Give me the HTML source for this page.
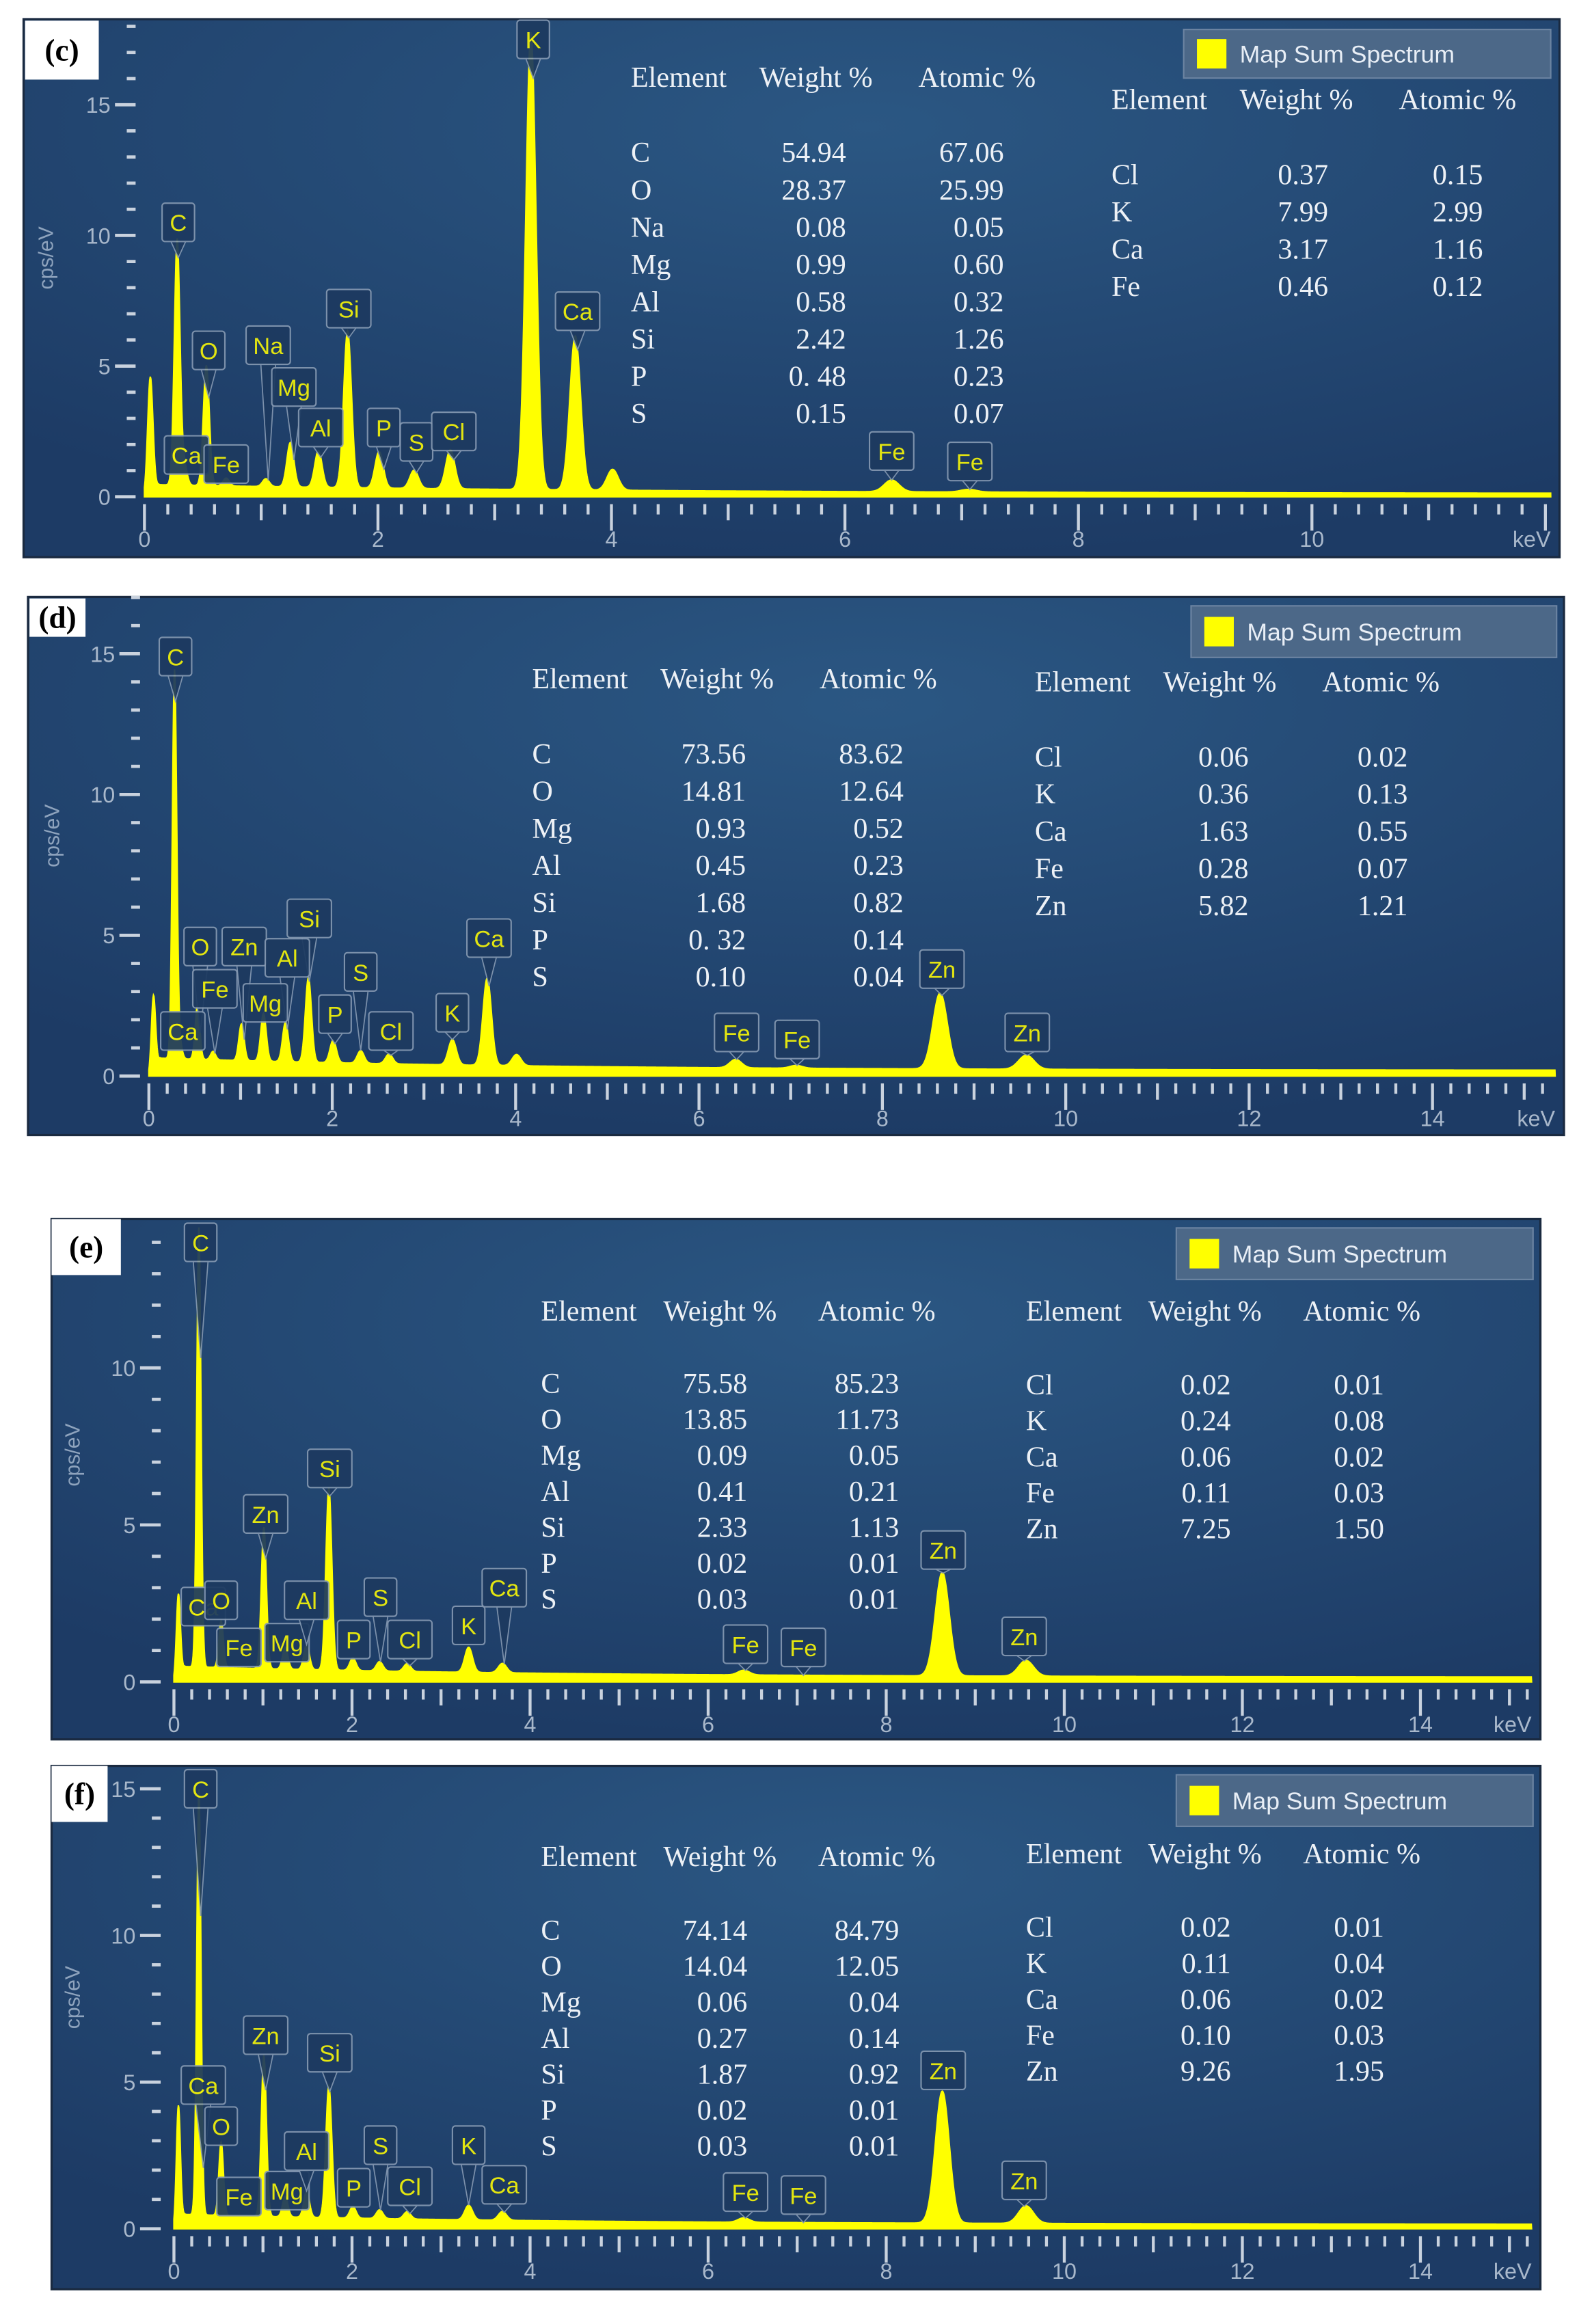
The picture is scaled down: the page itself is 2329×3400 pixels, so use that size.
<!DOCTYPE html>
<html><head><meta charset="utf-8">
<style>
html,body{margin:0;padding:0;background:#fff;}
svg{display:block;}
</style></head>
<body>
<svg id="fig" xmlns="http://www.w3.org/2000/svg" width="2329" height="3400" viewBox="0 0 1080 1576.6" preserveAspectRatio="none">
<defs>
<radialGradient id="bgGrad" cx="0.55" cy="0.2" r="0.8">
<stop offset="0" stop-color="#2b5783"/>
<stop offset="1" stop-color="#1d3b65"/>
</radialGradient>
</defs>
</svg>
<script>
// ---------- data (c) ----------
const cPeakE = [0.05,0.28,0.34,0.53,0.70,1.04,1.25,1.49,1.74,2.01,2.31,2.62,3.31,3.69,4.01,6.40,7.06];
const cPeakH = [4.4,9.4,0.8,4.6,0.3,0.3,1.7,1.4,6.0,1.4,0.7,1.5,17.5,5.9,0.8,0.45,0.1];
const cBg = [0.35,0.12];
const cTagNames = ["C","O","Na","Mg","Al","Si","P","S","Cl","K","Ca","Ca","Fe","Fe","Fe"];
const cTagE = [0.29,0.55,1.06,1.28,1.51,1.75,2.05,2.33,2.65,3.33,3.71,0.36,0.70,6.40,7.07];
const cTagY = [10.5,5.6,5.8,4.2,2.65,7.2,2.65,2.1,2.5,17.5,7.1,1.6,1.25,1.75,1.35];
const cT1El = ["C","O","Na","Mg","Al","Si","P","S"];
const cT1W = ["54.94","28.37","0.08","0.99","0.58","2.42","0. 48","0.15"];
const cT1A = ["67.06","25.99","0.05","0.60","0.32","1.26","0.23","0.07"];
const cT2El = ["Cl","K","Ca","Fe"];
const cT2W = ["0.37","7.99","3.17","0.46"];
const cT2A = ["0.15","2.99","1.16","0.12"];
const cXTicks = [0,2,4,6,8,10];
const cYTicks = [0,5,10,15];
// ---------- data (d) ----------
const dPeakE = [0.05,0.28,0.34,0.53,0.70,1.01,1.25,1.49,1.74,2.01,2.31,2.62,3.31,3.69,4.01,6.40,7.06,8.63,9.57];
const dPeakH = [2.6,13.8,0.5,1.9,0.3,1.3,1.7,1.4,3.0,0.8,0.45,0.35,0.9,3.1,0.4,0.3,0.1,2.7,0.5];
const dBg = [0.45,0.2];
const dTagNames = ["C","O","Zn","Fe","Si","Al","Mg","S","P","Cl","K","Ca","Ca","Fe","Fe","Zn","Zn"];
const dTagE = [0.29,0.56,1.04,0.72,1.75,1.51,1.27,2.31,2.03,2.64,3.31,3.71,0.37,6.41,7.07,8.65,9.58];
const dTagY = [14.9,4.6,4.6,3.1,5.6,4.2,2.6,3.7,2.2,1.6,2.25,4.9,1.6,1.55,1.3,3.8,1.55];
const dT1El = ["C","O","Mg","Al","Si","P","S"];
const dT1W = ["73.56","14.81","0.93","0.45","1.68","0. 32","0.10"];
const dT1A = ["83.62","12.64","0.52","0.23","0.82","0.14","0.04"];
const dT2El = ["Cl","K","Ca","Fe","Zn"];
const dT2W = ["0.06","0.36","1.63","0.28","5.82"];
const dT2A = ["0.02","0.13","0.55","0.07","1.21"];
const dXTicks = [0,2,4,6,8,10,12,14];
const dYTicks = [0,5,10,15];
// ---------- data (e) ----------
const ePeakE = [0.05,0.28,0.53,1.01,1.25,1.49,1.74,2.01,2.31,2.62,3.31,3.69,6.40,8.63,9.57];
const ePeakH = [2.6,14.0,1.5,4.5,0.7,0.8,5.8,0.4,0.3,0.25,0.8,0.3,0.15,3.3,0.5];
const eBg = [0.35,0.15];
const eTagNames = ["C","Zn","Si","Ca","O","Fe","Mg","Al","P","S","Cl","K","Ca","Fe","Fe","Zn","Zn"];
const eTagE = [0.30,1.03,1.75,0.33,0.53,0.73,1.27,1.49,2.02,2.32,2.65,3.31,3.71,6.42,7.07,8.64,9.55];
const eTagY = [14.0,5.35,6.8,2.4,2.6,1.1,1.25,2.6,1.35,2.7,1.35,1.8,3.0,1.2,1.1,4.2,1.45];
const eT1El = ["C","O","Mg","Al","Si","P","S"];
const eT1W = ["75.58","13.85","0.09","0.41","2.33","0.02","0.03"];
const eT1A = ["85.23","11.73","0.05","0.21","1.13","0.01","0.01"];
const eT2El = ["Cl","K","Ca","Fe","Zn"];
const eT2W = ["0.02","0.24","0.06","0.11","7.25"];
const eT2A = ["0.01","0.08","0.02","0.03","1.50"];
const eXTicks = [0,2,4,6,8,10,12,14];
const eYTicks = [0,5,10];
// ---------- data (f) ----------
const fPeakE = [0.05,0.28,0.53,1.01,1.25,1.49,1.74,2.01,2.31,2.62,3.31,3.69,6.40,8.63,9.57];
const fPeakH = [4.0,14.5,2.5,5.5,0.7,0.9,4.5,0.4,0.3,0.25,0.5,0.3,0.15,4.5,0.6];
const fBg = [0.35,0.15];
const fTagNames = ["C","Zn","Si","Ca","O","Fe","Mg","Al","P","S","Cl","K","Ca","Fe","Fe","Zn","Zn"];
const fTagE = [0.30,1.03,1.75,0.33,0.53,0.73,1.27,1.49,2.02,2.32,2.65,3.31,3.71,6.42,7.07,8.64,9.55];
const fTagY = [15.0,6.6,6.0,4.9,3.5,1.1,1.3,2.65,1.4,2.85,1.45,2.85,1.5,1.25,1.15,5.4,1.65];
const fT1El = ["C","O","Mg","Al","Si","P","S"];
const fT1W = ["74.14","14.04","0.06","0.27","1.87","0.02","0.03"];
const fT1A = ["84.79","12.05","0.04","0.14","0.92","0.01","0.01"];
const fT2El = ["Cl","K","Ca","Fe","Zn"];
const fT2W = ["0.02","0.11","0.06","0.10","9.26"];
const fT2A = ["0.01","0.04","0.02","0.03","1.95"];
const fXTicks = [0,2,4,6,8,10,12,14];
const fYTicks = [0,5,10,15];

const NS = "http://www.w3.org/2000/svg";
const svg = document.getElementById('fig');
function mk(tag, attrs, parent, text){
  const e = document.createElementNS(NS, tag);
  for (const k in attrs) e.setAttribute(k, attrs[k]);
  if (text !== undefined) e.textContent = text;
  (parent||svg).appendChild(e);
  return e;
}

function panel(cfg){
  const g = mk('g', {});
  
  
  const fr = mk('rect', {x:cfg.box[0], y:cfg.box[1], width:cfg.box[2]-cfg.box[0], height:cfg.box[3]-cfg.box[1], fill:'url(#bgGrad)', stroke:'#1a2a40', 'stroke-width':1.5}, g);
  
  
  const xS = E => cfg.x0 + E * cfg.kx;
  const yS = v => cfg.y0 - v * cfg.ky;
  const cid = 'clip' + cfg.id;
  const cp = mk('clipPath', {id:cid}, g);
  mk('rect', {x:cfg.box[0], y:cfg.box[1], width:cfg.box[2]-cfg.box[0], height:cfg.box[3]-cfg.box[1]}, cp);
  const ymax = (cfg.y0 - cfg.box[1]) / cfg.ky;
  for (let v = 0; v <= ymax; v++) {
    const major = cfg.yTicks.includes(v);
    const t = mk('line', {x1: major ? cfg.yAxX - 14 : cfg.yAxX - 6, x2: cfg.yAxX, y1: yS(v), y2: yS(v), stroke:'#c9d2de', 'stroke-width': 2.2}, g);
    
    
  }
  cfg.yTicks.forEach(v => {
    const t = mk('text', {x: cfg.yAxX - 17, y: yS(v) + 5.5, 'text-anchor':'end', 'font-family':'Liberation Sans, sans-serif', 'font-size':15, fill:'#a9b8cb'}, g, String(v));
    
    
  });
  const yt = mk('text', {x: 0, y: 0, transform:'translate(' + cfg.yLab[0] + ',' + cfg.yLab[1] + ') rotate(-90)', 'text-anchor':'middle', 'font-family':'Liberation Sans, sans-serif', 'font-size':14, fill:'#8ea3bd'}, g, 'cps/eV');
  
  
  const xmax = (cfg.box[2] - 6 - cfg.x0) / cfg.kx;
  for (let i = 0; i * 0.2 <= xmax + 1e-6; i++) {
    const E = i * 0.2;
    const major = i % 10 === 0, mid = i % 5 === 0;
    const len = major ? 18 : (mid ? 11 : 7);
    const t = mk('line', {x1: xS(E), x2: xS(E), y1: cfg.y0 + 5, y2: cfg.y0 + 5 + len, stroke:'#c9d2de', 'stroke-width': 2}, g);
    
    
  }
  cfg.xTicks.forEach(v => {
    const t = mk('text', {x: xS(v), y: cfg.y0 + 34, 'text-anchor':'middle', 'font-family':'Liberation Sans, sans-serif', 'font-size':15, fill:'#a9b8cb'}, g, String(v));
    
    
  });
  const kv = mk('text', {x: cfg.box[2] - 6, y: cfg.y0 + 34, 'text-anchor':'end', 'font-family':'Liberation Sans, sans-serif', 'font-size':15, fill:'#a9b8cb'}, g, 'keV');
  
  
  const f = E => {
    let v = (cfg.bg[0] * Math.exp(-E / 4) + cfg.bg[1]) * Math.min(1, E / 0.12);
    for (let i = 0; i < cfg.pE.length; i++) {
      const s = 0.022 + 0.0065 * cfg.pE[i];
      v += cfg.pH[i] * Math.exp(-Math.pow(E - cfg.pE[i], 2) / (2 * s * s));
    }
    return v;
  };
  let d = 'M' + xS(0) + ',' + cfg.y0;
  for (let E = 0; E <= xmax; E += 0.005) d += 'L' + xS(E).toFixed(2) + ',' + yS(f(E)).toFixed(2);
  d += 'L' + xS(xmax) + ',' + cfg.y0 + 'Z';
  const sp = mk('path', {d: d, fill:'#ffff00', stroke:'#ffff00', 'stroke-width':1, 'clip-path':'url(#' + cid + ')'}, g);
  
  
  cfg.tN.forEach((n, i) => {
    const cx = xS(cfg.tE[i]), cy = yS(cfg.tY[i]);
    const w = n.length > 1 ? 30 : 22, h = 26;
    const peakY = Math.min(cfg.y0 - 2, yS(f(cfg.tE[i])));
    const tg = mk('g', {opacity:0.93}, g);
    
    
    if (peakY > cy + h / 2 + 2) {
      mk('path', {d:'M' + (cx - 5) + ',' + (cy + h / 2) + 'L' + cx + ',' + peakY + 'L' + (cx + 5) + ',' + (cy + h / 2) + 'Z', fill:'#1d3a60', stroke:'#8397b0', 'stroke-width':0.8}, tg);
    }
    mk('rect', {x: cx - w / 2, y: cy - h / 2, width: w, height: h, rx: 2, fill:'#1d3a60', stroke:'#8397b0', 'stroke-width':1}, tg);
    mk('text', {x: cx, y: cy + 6, 'text-anchor':'middle', 'font-family':'Liberation Sans, sans-serif', 'font-size':16, fill:'#f2f20a'}, tg, n);
  });
  const L = cfg.legend;
  const lg = mk('g', {}, g);
  
  
  mk('rect', {x: L[0], y: L[1], width: L[2] - L[0], height: L[3] - L[1], fill:'#4c6888', stroke:'#6c84a2', 'stroke-width':1}, lg);
  mk('rect', {x: L[0] + 9, y: (L[1] + L[3]) / 2 - 10, width: 20, height: 20, fill:'#ffff00'}, lg);
  mk('text', {x: L[0] + 38, y: (L[1] + L[3]) / 2 + 6, 'font-family':'Liberation Sans, sans-serif', 'font-size':16.5, fill:'#e8eef6'}, lg, 'Map Sum Spectrum');
  const tbl = (name, cols, hy, rows0, dy, el, w, a) => {
    const tg = mk('g', {'font-family':'Liberation Serif, serif', 'font-size':19.5, fill:'#edf1f6'}, g);
    
    
    mk('text', {x: cols[0], y: hy}, tg, 'Element');
    mk('text', {x: cols[1], y: hy}, tg, 'Weight %');
    mk('text', {x: cols[2], y: hy}, tg, 'Atomic %');
    el.forEach((e, i) => {
      const y = rows0 + i * dy;
      mk('text', {x: cols[0], y: y}, tg, e);
      mk('text', {x: cols[3], y: y, 'text-anchor':'end'}, tg, w[i]);
      mk('text', {x: cols[4], y: y, 'text-anchor':'end'}, tg, a[i]);
    });
  };
  tbl('composition-table-1', cfg.t1c, cfg.t1h, cfg.t1r, cfg.t1d, cfg.t1[0], cfg.t1[1], cfg.t1[2]);
  tbl('composition-table-2', cfg.t2c, cfg.t2h, cfg.t2r, cfg.t2d, cfg.t2[0], cfg.t2[1], cfg.t2[2]);
  const pl = mk('g', {}, g);
  
  
  mk('rect', {x: cfg.lab[0], y: cfg.lab[1], width: cfg.lab[2], height: cfg.lab[3], fill:'#ffffff'}, pl);
  mk('text', {x: cfg.lab[0] + cfg.lab[2] / 2, y: cfg.lab[1] + cfg.lab[3] / 2 + 7, 'text-anchor':'middle', 'font-family':'Liberation Serif, serif', 'font-weight':'bold', 'font-size':21, fill:'#000'}, pl, '(' + cfg.id + ')');
}

panel({id:'c', box:[16,13,1058,378], x0:98, kx:79.2, y0:337, ky:17.73, yAxX:92, yLab:[36,175],
  pE:cPeakE, pH:cPeakH, bg:cBg, tN:cTagNames, tE:cTagE, tY:cTagY, xTicks:cXTicks, yTicks:cYTicks,
  legend:[803,20,1052,53], lab:[17,14,50,40],
  t1c:[428,515,623,574,681], t1h:59, t1r:110, t1d:25.3, t1:[cT1El,cT1W,cT1A],
  t2c:[754,841,949,901,1006], t2h:74, t2r:125, t2d:25.3, t2:[cT2El,cT2W,cT2A]});
panel({id:'d', box:[19,405,1061,770], x0:101, kx:62.2, y0:730, ky:19.1, yAxX:95, yLab:[40,567],
  pE:dPeakE, pH:dPeakH, bg:dBg, tN:dTagNames, tE:dTagE, tY:dTagY, xTicks:dXTicks, yTicks:dYTicks,
  legend:[808,411,1056,446], lab:[20,406,38,26],
  t1c:[361,448,556,506,613], t1h:467, t1r:518, t1d:25.2, t1:[dT1El,dT1W,dT1A],
  t2c:[702,789,897,847,955], t2h:469, t2r:520, t2d:25.2, t2:[dT2El,dT2W,dT2A]});
panel({id:'e', box:[35,827,1045,1180], x0:118, kx:60.4, y0:1141, ky:21.3, yAxX:109, yLab:[54,987],
  pE:ePeakE, pH:ePeakH, bg:eBg, tN:eTagNames, tE:eTagE, tY:eTagY, xTicks:eXTicks, yTicks:eYTicks,
  legend:[798,833,1040,868], lab:[35,827,47,38],
  t1c:[367,450,555,507,610], t1h:896, t1r:945, t1d:24.4, t1:[eT1El,eT1W,eT1A],
  t2c:[696,779,884,835,939], t2h:896, t2r:946, t2d:24.4, t2:[eT2El,eT2W,eT2A]});
panel({id:'f', box:[35,1198,1045,1553], x0:118, kx:60.4, y0:1512, ky:19.9, yAxX:109, yLab:[54,1355],
  pE:fPeakE, pH:fPeakH, bg:fBg, tN:fTagNames, tE:fTagE, tY:fTagY, xTicks:fXTicks, yTicks:fYTicks,
  legend:[798,1204,1040,1239], lab:[35,1198,38,38],
  t1c:[367,450,555,507,610], t1h:1266, t1r:1316, t1d:24.4, t1:[fT1El,fT1W,fT1A],
  t2c:[696,779,884,835,939], t2h:1264, t2r:1314, t2d:24.4, t2:[fT2El,fT2W,fT2A]});
</script>
</body></html>
